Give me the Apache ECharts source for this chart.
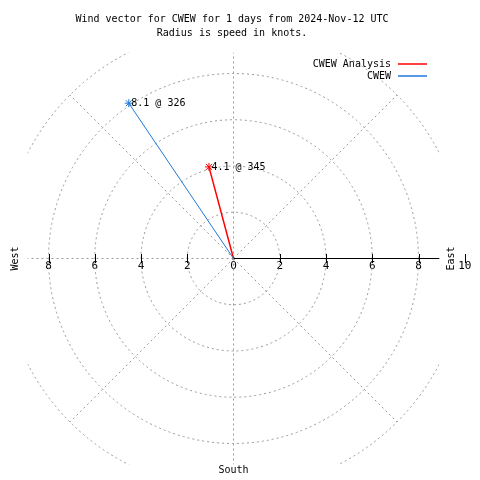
<!DOCTYPE html>
<html><head><meta charset="utf-8">
<script src="https://cdn.jsdelivr.net/npm/echarts@6/dist/echarts.min.js"></script>
<style>html,body{margin:0;padding:0;background:#fff}#c{width:480px;height:480px}</style>
</head><body><div id="c"></div>
<script>
// ---- data ----
const titleLines = ['Wind vector for CWEW for 1 days from 2024-Nov-12 UTC', 'Radius is speed in knots.'];
const seriesNames = ['CWEW Analysis', 'CWEW'];
const speeds = [4.1, 8.1];
const directions = [345, 326];
const tickValues = [-8, -6, -4, -2, 2, 4, 6, 8, 10];
const labelValues = [-8, -6, -4, -2, 0, 2, 4, 6, 8, 10];
const ringRadii = [2, 4, 6, 8, 10];
const spokeAngles = [0, 45, 90, 135, 180, 225, 270, 315];
const compassNames = ['East', 'South', 'West'];
const compassAngles = [90, 180, 270];
const RMAX = 10;
const BOX = 8.9;

// ---- layout / style ----
const FONT = 'DejaVu Sans Mono';
const CX = 233.5, CY = 258.5, R = 231.25;
const colors = ['#ff0000', '#1f78dc'];
const widths = [1.5, 1];
const GRID_COLOR = '#9a9a9a';
const star = 'path://M0,-4L0,4M-4,0L4,0M-3,-3L3,3M-3,3L3,-3';

function scaleInfo(api) {
  const c = api.coord([0, 0]);
  const e = api.coord([RMAX, 90]);
  return { c, s: (e[0] - c[0]) / RMAX };
}
function clipBox(api) {
  const { c, s } = scaleInfo(api);
  const h = BOX * s;
  return { type: 'rect', shape: { x: c[0] - h, y: c[1] - h, width: 2 * h, height: 2 * h } };
}

const chart = echarts.init(document.getElementById('c'), null, { renderer: 'canvas' });
const option = {
  animation: false,
  backgroundColor: '#fff',
  graphic: [{
    type: 'text', x: 232, y: 12, silent: true,
    style: { text: titleLines.join('\n'), font: '10px "' + FONT + '"', fill: '#000', align: 'center', textAlign: 'center', lineHeight: 14 }
  }],
  legend: {
    data: seriesNames, orient: 'vertical', right: 48, top: 53, align: 'right',
    icon: 'rect', itemWidth: 29, itemHeight: 1.5, itemGap: 0,
    itemStyle: { borderWidth: 0 },
    textStyle: { fontFamily: FONT, fontSize: 10, color: '#000', lineHeight: 12, padding: [0, 2, 0, 0] }
  },
  polar: { center: [CX, CY], radius: R },
  angleAxis: { type: 'value', min: 0, max: 360, startAngle: 90, clockwise: true, show: false },
  radiusAxis: { type: 'value', min: 0, max: RMAX, show: false },
  grid: { left: CX - R, width: 2 * R, top: CY - R, height: R },
  xAxis: [{
    type: 'value', min: -RMAX, max: RMAX, position: 'bottom',
    axisLine: { show: false }, splitLine: { show: false }, axisTick: { show: false },
    axisLabel: { customValues: labelValues, formatter: v => String(Math.abs(v)), margin: 2, color: '#000', fontFamily: FONT, fontSize: 11 }
  }],
  yAxis: { type: 'value', min: 0, max: RMAX, show: false },
  series: [
    {
      type: 'custom', coordinateSystem: 'polar', silent: true, z: 1,
      data: ringRadii.map(r => [r, 90]),
      renderItem(params, api) {
        const c = api.coord([0, 0]);
        const p = api.coord([api.value(0), 90]);
        return {
          type: 'circle', shape: { cx: c[0], cy: c[1], r: p[0] - c[0] },
          style: { fill: 'none', stroke: GRID_COLOR, lineWidth: 1, lineDash: [2, 3] },
          clipPath: clipBox(api)
        };
      }
    },
    {
      type: 'custom', coordinateSystem: 'polar', silent: true, z: 2,
      data: spokeAngles.map(a => [RMAX, a]),
      renderItem(params, api) {
        const c = api.coord([0, 0]);
        const a = api.value(1);
        const p = api.coord([api.value(0), a]);
        const east = a === 90;
        return {
          type: 'line', shape: { x1: c[0], y1: c[1], x2: p[0], y2: p[1] },
          style: east ? { stroke: '#000', lineWidth: 1 } : { stroke: GRID_COLOR, lineWidth: 1, lineDash: [2, 3] },
          clipPath: clipBox(api)
        };
      }
    },
    {
      // axis tick marks crossing the horizontal axis
      type: 'custom', coordinateSystem: 'polar', silent: true, z: 4,
      data: tickValues.map(v => [Math.abs(v), v < 0 ? 270 : 90]),
      renderItem(params, api) {
        const p = api.coord([api.value(0), api.value(1)]);
        const x = Math.round(p[0]) + 0.5;
        return {
          type: 'line', shape: { x1: x, y1: p[1] - 4.5, x2: x, y2: p[1] + 4.5 },
          style: { stroke: '#000', lineWidth: 1 }
        };
      }
    },
    {
      type: 'custom', coordinateSystem: 'polar', silent: true, z: 3,
      data: compassAngles.map((a, i) => [RMAX, a, i]),
      renderItem(params, api) {
        const a = api.value(1);
        const name = compassNames[api.value(2)];
        const rr = a === 180 ? 9.18 : 9.44;
        const p = api.coord([rr, a]);
        const vertical = a !== 180;
        return {
          type: 'text', x: p[0], y: p[1], rotation: vertical ? Math.PI / 2 : 0,
          style: { text: name, font: '10px "' + FONT + '"', fill: '#000', align: 'center', verticalAlign: 'middle', textAlign: 'center', textVerticalAlign: 'middle' }
        };
      }
    }
  ].concat(seriesNames.map((name, i) => ({
    type: 'line', name, coordinateSystem: 'polar', z: 5,
    color: colors[i],
    data: [
      { value: [0, directions[i]], symbol: 'none' },
      { value: [speeds[i], directions[i]], label: { show: true } }
    ],
    symbol: star, symbolSize: 8, showSymbol: true,
    itemStyle: { color: colors[i], borderColor: colors[i], borderWidth: 1 },
    lineStyle: { color: colors[i], width: widths[i] },
    label: { show: false, position: 'right', distance: -2, formatter: speeds[i] + ' @ ' + directions[i], fontFamily: FONT, fontSize: 10, color: '#000' }
  })))
};
chart.setOption(option);
</script></body></html>
